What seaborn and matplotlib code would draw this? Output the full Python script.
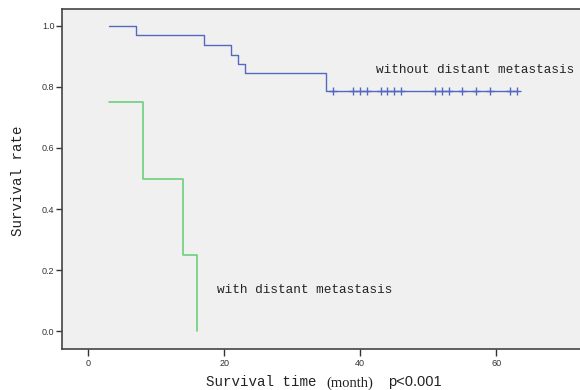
import seaborn as sns
import matplotlib.pyplot as plt
import pandas as pd

# Kaplan-Meier steps
t_without = [3, 7, 17, 21, 22, 23, 35, 63]
s_without = [1.0, 0.969, 0.938, 0.906, 0.875, 0.844, 0.788, 0.788]
censor_without = [36, 39, 40, 41, 43, 44, 45, 46, 51, 52, 53, 55, 57, 59, 62, 63]

t_with = [3, 8, 14, 16]
s_with = [0.75, 0.5, 0.25, 0.0]

x_ticks = [0, 20, 40, 60]
y_ticks = [0.0, 0.2, 0.4, 0.6, 0.8, 1.0]

blue = '#5468bf'
green = '#6ccf7c'

sns.set_style('ticks', {'axes.facecolor': '#f0f0f0'})

fig = plt.figure(figsize=(5.8, 3.9), dpi=100)
ax = fig.add_axes([62 / 580, 1 - 349 / 390, 1 - 62 / 580, 340 / 390])

df_w = pd.DataFrame({'t': t_without, 's': s_without})
df_g = pd.DataFrame({'t': t_with, 's': s_with})
sns.lineplot(data=df_w, x='t', y='s', drawstyle='steps-post', estimator=None,
             sort=False, color=blue, linewidth=1.0, ax=ax)
sns.lineplot(data=df_g, x='t', y='s', drawstyle='steps-post', estimator=None,
             sort=False, color=green, linewidth=1.2, ax=ax)

df_c = pd.DataFrame({'t': censor_without, 's': [s_without[-1]] * len(censor_without)})
sns.scatterplot(data=df_c, x='t', y='s', marker='+', s=28, color=blue,
                linewidth=1.0, ax=ax, zorder=3)

ax.set_xlim(-3.85, 72.3)
ax.set_ylim(-0.058, 1.055)
ax.set_xticks(x_ticks)
ax.set_yticks(y_ticks)
ax.set_xticklabels([str(v) for v in x_ticks], family='Liberation Sans', fontsize=6.5, color='#333333')
ax.set_yticklabels(['%.1f' % v for v in y_ticks], family='Liberation Sans', fontsize=6.5, color='#333333')
ax.tick_params(axis='y', length=4, width=1, pad=1.5, color='#333333')
ax.tick_params(axis='x', length=5, width=1, pad=2.5, color='#333333')
ax.set_xlabel('')
ax.set_ylabel('')

for side in ['left', 'bottom', 'top']:
    ax.spines[side].set_visible(True)
    ax.spines[side].set_color('#444444')
    ax.spines[side].set_linewidth(1.2)
ax.spines['right'].set_visible(False)

ax.text(42.3, 0.855, 'without distant metastasis', family='Liberation Mono',
        fontsize=9.2, color='#222222', va='center', ha='left')
ax.text(18.9, 0.135, 'with distant metastasis', family='Liberation Mono',
        fontsize=9.2, color='#222222', va='center', ha='left')

fig.text(18 / 580, 1 - 181 / 390, 'Survival rate', family='Liberation Mono',
         fontsize=10.2, rotation=90, va='center', ha='center', color='#222222')
fig.text(206 / 580, 1 - 382 / 390, 'Survival time', family='Liberation Mono',
         fontsize=10.2, va='center', ha='left', color='#222222')
fig.text(326 / 580, 1 - 383 / 390, '(month)', family='Liberation Serif',
         fontsize=10.5, va='center', ha='left', color='#222222')
fig.text(388 / 580, 1 - 382 / 390, 'p<0.001', family='Liberation Sans',
         fontsize=10.5, va='center', ha='left', color='#222222')

fig.savefig('out.png', dpi=100)
